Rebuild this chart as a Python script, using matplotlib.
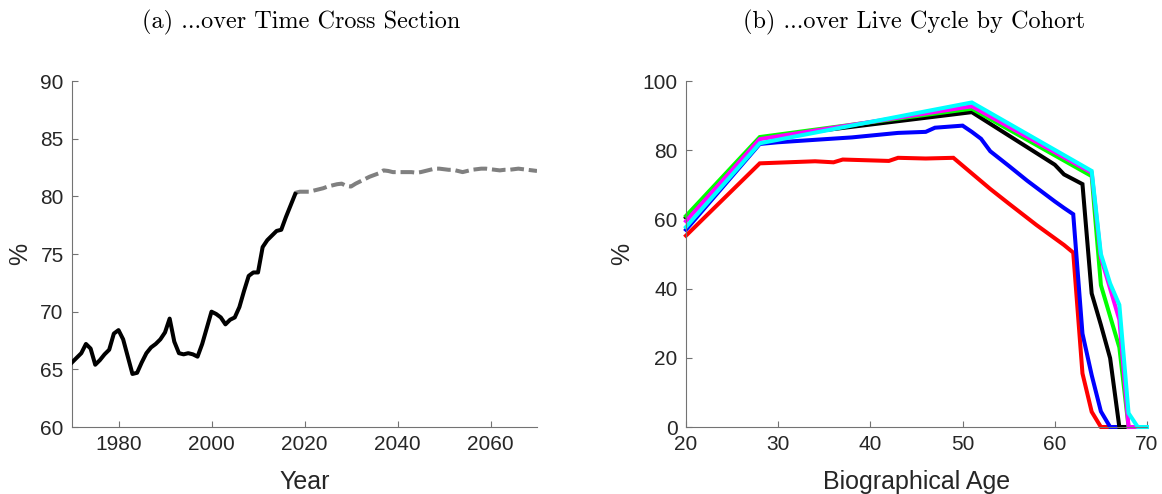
import matplotlib
matplotlib.use("Agg")
import matplotlib.pyplot as plt

# ---------------- data ----------------
hist_years = list(range(1970, 2019))
hist_vals = [65.6, 66.0, 66.4, 67.2, 66.8, 65.4, 65.8, 66.3, 66.7, 68.1,
             68.4, 67.6, 66.1, 64.6, 64.7, 65.6, 66.4, 66.9, 67.2, 67.6,
             68.2, 69.4, 67.4, 66.4, 66.3, 66.4, 66.3, 66.1, 67.2, 68.6,
             70.0, 69.8, 69.5, 68.9, 69.3, 69.5, 70.4, 71.8, 73.1, 73.4,
             73.4, 75.6, 76.2, 76.6, 77.0, 77.1, 78.2, 79.2, 80.2]

proj_years = list(range(2018, 2071))
proj_vals = [80.3, 80.4, 80.4, 80.4, 80.5, 80.6, 80.7, 80.85, 80.95, 81.05,
             81.1, 80.9, 80.85, 81.1, 81.3, 81.5, 81.7, 81.85, 82.0, 82.25,
             82.2, 82.1, 82.1, 82.1, 82.1, 82.1, 82.05, 82.1, 82.2, 82.3,
             82.4, 82.4, 82.35, 82.3, 82.3, 82.2, 82.1, 82.2, 82.3, 82.35,
             82.4, 82.4, 82.35, 82.3, 82.25, 82.3, 82.3, 82.35, 82.4, 82.35,
             82.3, 82.25, 82.2]

red_age = [20, 28, 31, 34, 36, 37, 42, 43, 46, 49, 51, 53, 55, 58, 61, 62, 63, 64, 65, 66]
red_val = [55.3, 76.2, 76.5, 76.8, 76.5, 77.3, 76.9, 77.8, 77.6, 77.8, 73.3, 68.8, 64.6,
           58.4, 52.6, 50.4, 15.5, 4.4, 0, 0]

blue_age = [20, 28, 30, 34, 38, 43, 46, 47, 50, 51, 52, 53, 55, 57, 59, 60, 61, 62, 63, 64, 65, 66, 67]
blue_val = [57.0, 81.8, 82.3, 83.0, 83.7, 85.0, 85.3, 86.5, 87.1, 85.3, 83.3, 79.7, 75.5,
            71.2, 67.2, 65.2, 63.3, 61.5, 27.0, 15.0, 4.5, 0, 0]

black_age = [20, 28, 51, 59, 60, 61, 62, 63, 64, 65, 66, 67, 68]
black_val = [60.5, 83.5, 91.0, 77.5, 75.8, 73.0, 71.6, 70.2, 38.6, 29.5, 19.9, 0, 0]

green_age = [20, 28, 51, 64, 65, 66, 67, 68, 69]
green_val = [61.0, 83.8, 92.0, 72.5, 41.0, 32.0, 23.0, 0, 0]

magenta_age = [20, 28, 51, 64, 65, 66, 67, 68, 69]
magenta_val = [59.5, 83.2, 92.7, 73.5, 49.0, 40.0, 31.0, 0, 0]

cyan_age = [20, 28, 51, 64, 65, 66, 67, 68, 69, 70]
cyan_val = [57.8, 82.0, 93.8, 74.0, 50.0, 41.5, 35.3, 4.0, 0, 0]

cohorts = [(red_age, red_val, (1, 0, 0)),
           (blue_age, blue_val, (0, 0, 1)),
           (black_age, black_val, (0, 0, 0)),
           (green_age, green_val, (0, 1, 0)),
           (magenta_age, magenta_val, (1, 0, 1)),
           (cyan_age, cyan_val, (0, 1, 1))]

# ---------------- figure ----------------
W, H = 1162, 494
fig = plt.figure(figsize=(W / 100, H / 100), dpi=100)

tick_col = (0.15, 0.15, 0.15)
spine_col = (0.45, 0.45, 0.45)
sans = "Liberation Sans"
LW = 2.9


def style(ax):
    for s in ("top", "right"):
        ax.spines[s].set_visible(False)
    for s in ("left", "bottom"):
        ax.spines[s].set_color(spine_col)
        ax.spines[s].set_linewidth(0.8)
    ax.tick_params(direction="in", length=4, width=0.8, color=spine_col,
                   labelcolor=tick_col, labelsize=15, pad=6)
    for lab in ax.get_xticklabels() + ax.get_yticklabels():
        lab.set_fontfamily(sans)


def px_axes(x0, y0, x1, y1):
    return fig.add_axes([x0 / W, 1 - y1 / H, (x1 - x0) / W, (y1 - y0) / H])


# left panel
ax1 = px_axes(72, 81, 537, 427)
ax1.plot(hist_years, hist_vals, color="k", lw=LW, solid_joinstyle="round", zorder=3)
ax1.plot(proj_years, proj_vals, color=(0.5, 0.5, 0.5), lw=LW,
         linestyle=(0, (3.4, 1.2)), zorder=2)
ax1.set_xlim(1970, 2070)
ax1.set_ylim(60, 90)
ax1.set_xticks([1980, 2000, 2020, 2040, 2060])
ax1.set_yticks([60, 65, 70, 75, 80, 85, 90])
style(ax1)
ax1.set_xlabel("Year", fontsize=18, fontfamily=sans, color=tick_col, labelpad=11)
ax1.set_ylabel("%", fontsize=18, fontfamily=sans, color=tick_col, labelpad=6)

# right panel
ax2 = px_axes(686, 81, 1147, 427)
for age, val, col in cohorts:
    ax2.plot(age, val, color=col, lw=LW, solid_joinstyle="miter", clip_on=False)
ax2.set_xlim(20, 70)
ax2.set_ylim(0, 100)
ax2.set_xticks([20, 30, 40, 50, 60, 70])
ax2.set_yticks([0, 20, 40, 60, 80, 100])
style(ax2)
ax2.set_xlabel("Biographical Age", fontsize=18, fontfamily=sans, color=tick_col, labelpad=11)
ax2.set_ylabel("%", fontsize=18, fontfamily=sans, color=tick_col, labelpad=6)

# titles
fig.text((72 + 537) / 2 / W - 3 / W, 1 - 22 / H, "(a) ...over Time Cross Section",
         fontname="cmr10", fontsize=17.5, ha="center", va="center", color="k")
fig.text((686 + 1147) / 2 / W - 2 / W, 1 - 22 / H, "(b) ...over Live Cycle by Cohort",
         fontname="cmr10", fontsize=17.5, ha="center", va="center", color="k")

fig.savefig("out.png", dpi=100, facecolor="white")
